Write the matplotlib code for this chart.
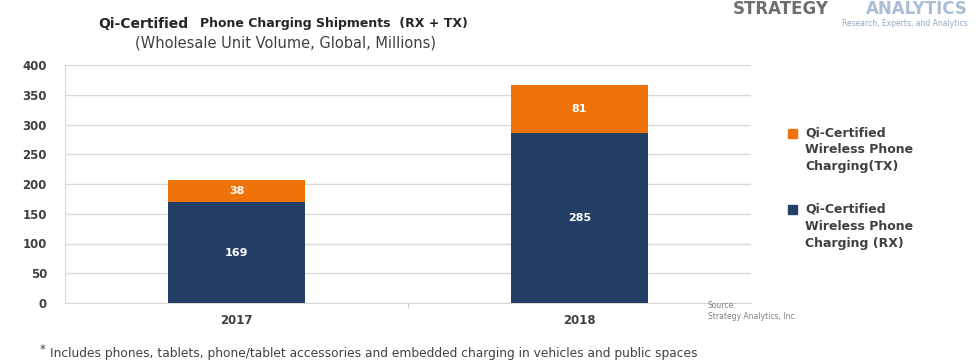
import matplotlib.pyplot as plt
from matplotlib.patches import Rectangle

# Data
years = ['2017', '2018']
rx_units = [169, 285]
tx_units = [38, 81]
yticks = [0, 50, 100, 150, 200, 250, 300, 350, 400]
tx_label = 'Qi-Certified\nWireless Phone\nCharging(TX)'
rx_label = 'Qi-Certified\nWireless Phone\nCharging (RX)'

navy = '#243F66'
orange = '#F0730A'
grey_txt = '#404040'

plt.rcParams['font.family'] = ['DejaVu Sans']

W, H = 978, 364
fig = plt.figure(figsize=(9.78, 3.64), dpi=100)
ax = fig.add_axes([65 / W, 1 - 303 / H, (751 - 65) / W, (303 - 65) / H])

x = range(len(years))
ax.bar(x, rx_units, width=0.4, color=navy, zorder=3)
ax.bar(x, tx_units, width=0.4, bottom=rx_units, color=orange, zorder=3)

for i in x:
    ax.text(i, rx_units[i] / 2, str(rx_units[i]), ha='center', va='center',
            color='white', fontsize=8, fontweight='bold', zorder=4)
    ax.text(i, rx_units[i] + tx_units[i] / 2, str(tx_units[i]), ha='center', va='center',
            color='white', fontsize=8, fontweight='bold', zorder=4)

ax.set_xlim(-0.5, 1.5)
ax.set_ylim(0, 400)
ax.set_yticks(yticks)
ax.set_xticks(list(x))
ax.set_xticklabels(years)
ax.set_xticks([0.5], minor=True)
ax.tick_params(axis='x', which='major', length=0, pad=8, labelsize=8.5, colors=grey_txt)
ax.tick_params(axis='x', which='minor', length=3, color='#BFBFBF')
ax.tick_params(axis='y', length=0, pad=13, labelsize=8.5, colors=grey_txt)
for lbl in ax.get_xticklabels() + ax.get_yticklabels():
    lbl.set_fontweight('bold')

ax.grid(axis='y', color='#D9D9D9', linewidth=1, zorder=0)
for s in ['top', 'right']:
    ax.spines[s].set_visible(False)
ax.spines['left'].set_color('#D9D9D9')
ax.spines['bottom'].set_color('#D9D9D9')

# legend drawn by hand: marker lines up with the first text line
for y_px, col, lab in [(133, orange, tx_label), (210, navy, rx_label)]:
    yf = 1 - y_px / H
    fig.patches.append(Rectangle((788 / W, yf - 4.5 / H), 9 / W, 9 / H,
                                 transform=fig.transFigure, color=col))
    fig.text(805 / W, yf + 7 / H, lab, fontsize=9, fontweight='bold', color=grey_txt,
             va='top', linespacing=1.4)

# titles
fig.text(98 / W, 1 - 24 / H, 'Qi-Certified', fontsize=10, fontweight='bold',
         color='#262626', va='center')
fig.text(200 / W, 1 - 24 / H, 'Phone Charging Shipments  (RX + TX)', fontsize=9,
         fontweight='bold', color='#262626', va='center')
fig.text(135 / W, 1 - 43 / H, '(Wholesale Unit Volume, Global, Millions)', fontsize=10.5,
         color=grey_txt, va='center')

# logo
fig.text(733 / W, 1 - 9 / H, 'STRATEGY', fontsize=12, fontweight='bold',
         color='#6E6E6E', va='center')
fig.text(968 / W, 1 - 9 / H, 'ANALYTICS', fontsize=12, fontweight='bold',
         color='#A9BDD6', va='center', ha='right')
fig.text(968 / W, 1 - 24 / H, 'Research, Experts, and Analytics', fontsize=5.5,
         color='#8FA9C8', va='center', ha='right')

# source
fig.text(708 / W, 1 - 311 / H, 'Source:\nStrategy Analytics, Inc.', fontsize=5.5,
         color='#808080', va='center', linespacing=1.3)

# footnote
fig.text(40 / W, 1 - 350 / H, '*', fontsize=8.5, color=grey_txt, va='center')
fig.text(50 / W, 1 - 353 / H,
         'Includes phones, tablets, phone/tablet accessories and embedded charging in vehicles and public spaces',
         fontsize=8.8, color=grey_txt, va='center')

fig.savefig('out.png', dpi=100)
